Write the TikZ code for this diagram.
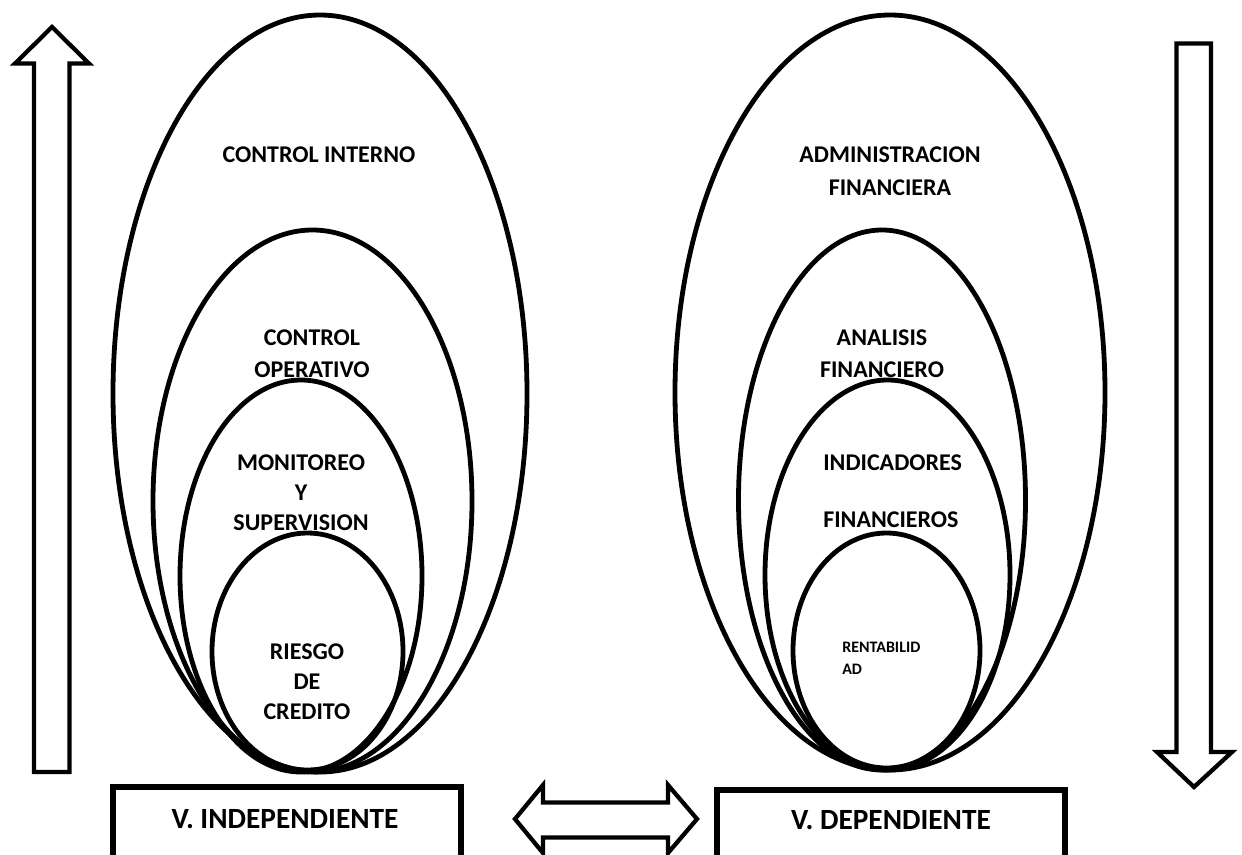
\documentclass[tikz,border=0pt]{standalone}
\usepackage{fontspec}
\setmainfont{Carlito}
\tikzset{
  ring/.style={line width=3.6pt},
  blockarrow/.style={line width=3.2pt, line join=miter, miter limit=10},
  varbox/.style={line width=4.5pt},
  lbl/.style={font=\bfseries\fontsize{18}{24}\selectfont, align=center, inner sep=0pt},
  lbltight/.style={font=\bfseries\fontsize{18}{22.5}\selectfont, align=center, inner sep=0pt},
  lblsmall/.style={font=\bfseries\fontsize{12}{16.5}\selectfont, align=left, inner sep=0pt, anchor=west},
  varlbl/.style={font=\bfseries\fontsize{22}{26}\selectfont, inner sep=0pt}
}
\begin{document}
\begin{tikzpicture}[x=0.75pt,y=-0.75pt]
\useasboundingbox (0,0) rectangle (1242,854);
\fill[white] (0,0) rectangle (1242,854);

% left group of ellipses
\draw[ring] (320,393.5) ellipse [x radius=207, y radius=378.5];
\draw[ring] (312.5,501) ellipse [x radius=159.5, y radius=271];
\draw[ring] (301,576) ellipse [x radius=121, y radius=196];
\draw[ring] (307.5,651.5) ellipse [x radius=95.5, y radius=118.5];

% right group of ellipses
\draw[ring] (890,392.5) ellipse [x radius=215, y radius=377.5];
\draw[ring] (882,500) ellipse [x radius=143.5, y radius=270];
\draw[ring] (887.5,575) ellipse [x radius=122.5, y radius=195];
\draw[ring] (886.5,650.5) ellipse [x radius=93.5, y radius=117.5];

% labels left
\node[lbl] (ci) at (319,155) {CONTROL INTERNO};
\node[lbl] (co) at (312,354) {CONTROL\\OPERATIVO};
\node[lbltight] (ms) at (301,493) {MONITOREO\\Y\\SUPERVISION};
\node[lbltight] (rc) at (307,682) {RIESGO\\DE\\CREDITO};

% labels right
\node[lbl, font=\bfseries\fontsize{18}{24.75}\selectfont] (af) at (890,171.5) {ADMINISTRACION\\FINANCIERA};
\node[lbl] (an) at (882,354) {ANALISIS\\FINANCIERO};
\node[lbl, align=left, anchor=west, font=\bfseries\fontsize{18}{42.75}\selectfont] (inf) at (823,491.5) {INDICADORES\\FINANCIEROS};
\node[lblsmall] (rent) at (842,658) {RENTABILID\\AD};

% vertical block arrows
\draw[blockarrow] (52,27) -- (89,63.5) -- (69.5,63.5) -- (69.5,772) -- (34,772) -- (34,63.5) -- (15,63.5) -- cycle;
\draw[blockarrow] (1194,787) -- (1157,752) -- (1176.5,752) -- (1176.5,43.5) -- (1211,43.5) -- (1211,752) -- (1232,752) -- cycle;

% variable boxes
\draw[varbox] (113,880) -- (113,787) -- (461,787) -- (461,880);
\draw[varbox] (716.5,880) -- (716.5,790) -- (1065,790) -- (1065,880);
\node[varlbl] (vi) at (285,819) {V. INDEPENDIENTE};
\node[varlbl] (vd) at (891,820) {V. DEPENDIENTE};

% double arrow
\draw[blockarrow] (515,819) -- (543,785) -- (543,802.5) -- (668,802.5) -- (668,785) -- (697,819) -- (668,853) -- (668,837.5) -- (543,837.5) -- (543,853) -- cycle;
\end{tikzpicture}
\end{document}
